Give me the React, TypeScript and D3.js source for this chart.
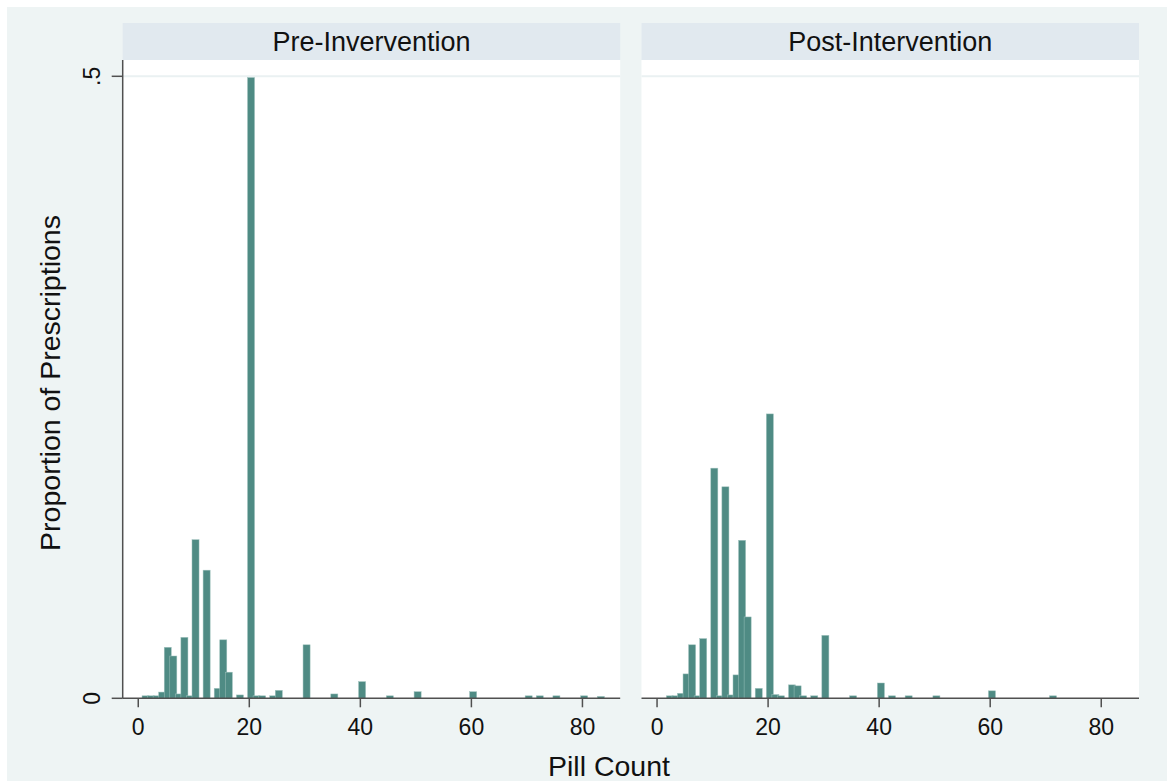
import React from 'react';
import * as d3 from 'd3';

// pill count (bar position) and proportion of prescriptions
const prePills = [1, 2, 3, 4, 5, 6, 7, 8, 9, 10, 12, 14, 15, 16, 18, 20, 21, 22, 24, 25, 30, 35, 40, 45, 50, 60, 70, 72, 75, 80, 83];
const preShare = [
  0.002, 0.002, 0.002, 0.005, 0.041, 0.034, 0.0035, 0.049, 0.002, 0.1275, 0.103, 0.008, 0.047, 0.021, 0.0027, 0.499,
  0.002, 0.002, 0.002, 0.0064, 0.043, 0.0035, 0.0134, 0.002, 0.0053, 0.0053, 0.002, 0.002, 0.002, 0.002, 0.0015,
];
const postPills = [2, 3, 4, 5, 6, 7, 8, 10, 11, 12, 13, 14, 15, 16, 18, 20, 21, 22, 24, 25, 26, 28, 30, 35, 40, 42, 45, 50, 60, 71];
const postShare = [
  0.002, 0.002, 0.004, 0.0196, 0.043, 0.002, 0.048, 0.185, 0.002, 0.17, 0.0027, 0.0188, 0.127, 0.0654, 0.008, 0.2286,
  0.003, 0.002, 0.0108, 0.01, 0.002, 0.002, 0.0506, 0.002, 0.0123, 0.002, 0.002, 0.002, 0.006, 0.002,
];
const panelTitles = ['Pre-Invervention', 'Post-Intervention'];
const xTicks = [0, 20, 40, 60, 80];
const yTicks = [0, 0.5];
const yTickLabels = ['0', '.5'];

const W = 1167;
const H = 781;
const FONT = '"Liberation Sans", Arial, sans-serif';
const BAR = '#4f8b84';
const AXIS = '#505050';

const stripTop = 23;
const plotTop = 60;
const baseY = 698.3;
const panelW = 497.5;
const panelLefts = [122.7, 641.5];

const yScale = d3.scaleLinear().domain([0, 0.5]).range([baseY, 76.3]);

function Panel({ left, title, pills, share, first }: { left: number; title: string; pills: number[]; share: number[]; first: boolean }) {
  const x = d3.scaleLinear().domain([-2.8, 86.8]).range([left, left + panelW]);
  return (
    <g>
      <rect x={left} y={stripTop} width={panelW} height={plotTop - stripTop} fill="#e1e9ef" />
      <text x={left + panelW / 2} y={(stripTop + plotTop) / 2 + 9} textAnchor="middle" fontSize={27} fontFamily={FONT} fill="#111">
        {title}
      </text>
      <rect x={left} y={plotTop} width={panelW} height={baseY - plotTop} fill="#ffffff" />
      {yTicks.slice(1).map((t) => (
        <line key={t} x1={left} x2={left + panelW} y1={yScale(t)} y2={yScale(t)} stroke="#eaf1f2" strokeWidth={2} />
      ))}
      {pills.map((p, i) => (
        <rect
          key={p}
          x={x(p - 0.32)}
          y={yScale(share[i])}
          width={x(p + 0.95) - x(p - 0.32)}
          height={baseY - yScale(share[i])}
          fill={BAR}
          stroke="#9fc2bd"
          strokeWidth={0.5}
        />
      ))}
      <line x1={left} x2={left + panelW} y1={baseY} y2={baseY} stroke={AXIS} strokeWidth={1.5} />
      {xTicks.map((t) => (
        <g key={t}>
          <line x1={x(t)} x2={x(t)} y1={baseY} y2={baseY + 9} stroke={AXIS} strokeWidth={1.5} />
          <text x={x(t)} y={baseY + 37} textAnchor="middle" fontSize={23} fontFamily={FONT} fill="#111">
            {t}
          </text>
        </g>
      ))}
      {first && (
        <g>
          <line x1={left} x2={left} y1={plotTop} y2={baseY} stroke={AXIS} strokeWidth={1.5} />
          {yTicks.map((t, i) => (
            <g key={t}>
              <line x1={left - 11} x2={left} y1={yScale(t)} y2={yScale(t)} stroke={AXIS} strokeWidth={1.5} />
              <text
                transform={`translate(${left - 23},${yScale(t)}) rotate(-90)`}
                textAnchor="middle"
                fontSize={23}
                fontFamily={FONT}
                fill="#111"
              >
                {yTickLabels[i]}
              </text>
            </g>
          ))}
        </g>
      )}
    </g>
  );
}

export default function App() {
  return (
    <svg width={W} height={H} style={{ position: 'absolute', left: 0, top: 0 }}>
      <rect x={0} y={0} width={W} height={H} fill="#ffffff" />
      <rect x={7} y={7} width={W - 7} height={H - 7} fill="#eef4f4" />
      <Panel left={panelLefts[0]} title={panelTitles[0]} pills={prePills} share={preShare} first />
      <Panel left={panelLefts[1]} title={panelTitles[1]} pills={postPills} share={postShare} first={false} />
      <text
        transform={`translate(60,383) rotate(-90)`}
        textAnchor="middle"
        fontSize={28.5}
        fontFamily={FONT}
        fill="#111"
      >
        Proportion of Prescriptions
      </text>
      <text x={609} y={775.5} textAnchor="middle" fontSize={28.5} fontFamily={FONT} fill="#111">
        Pill Count
      </text>
    </svg>
  );
}
